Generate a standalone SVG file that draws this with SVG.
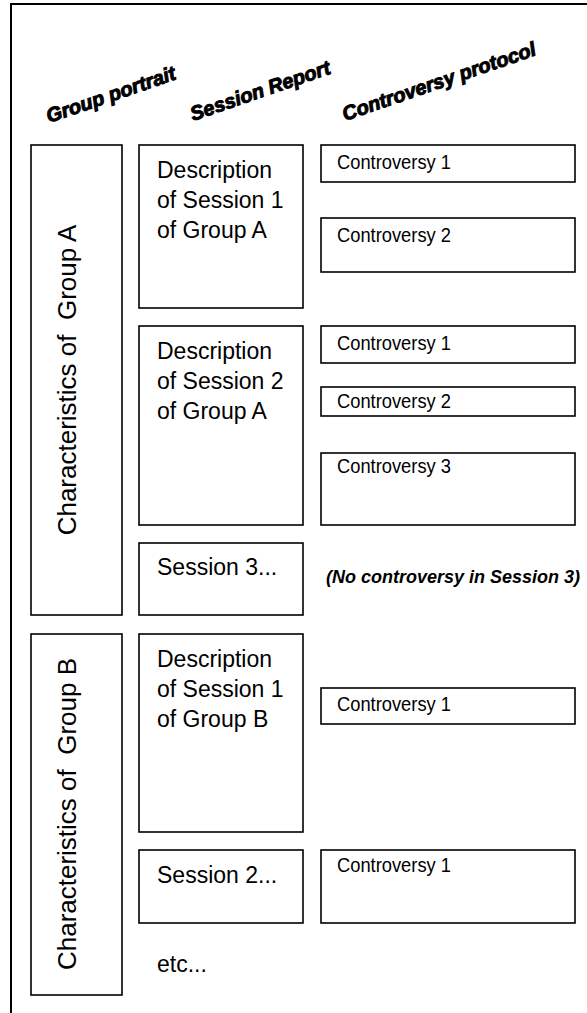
<svg xmlns="http://www.w3.org/2000/svg" width="587" height="1013" viewBox="0 0 587 1013">
<style>
.box{fill:#fff;stroke:#000;stroke-width:1.6}
.frame{fill:none;stroke:#000;stroke-width:2}
.hdr{font-family:"Liberation Sans",Arial,sans-serif;font-weight:bold;font-style:italic;font-size:20px;fill:#000;stroke:#000;stroke-width:1}
.ses{font-family:"Liberation Sans",Arial,sans-serif;font-size:23px;fill:#000}
.grp{font-family:"Liberation Sans",Arial,sans-serif;font-size:26px;fill:#000;white-space:pre}
.con{font-family:"Liberation Sans",Arial,sans-serif;font-size:20px;fill:#000}
.note{font-family:"Liberation Sans",Arial,sans-serif;font-size:18px;font-weight:bold;font-style:italic;fill:#000}
</style>
<rect width="587" height="1013" fill="#fff"/>
<path class="frame" d="M11,1013 V4 H587"/>
<g id="headers">
<text class="hdr" transform="translate(49,123) rotate(-19)">Group portrait</text>
<text class="hdr" transform="translate(193,121) rotate(-19)">Session Report</text>
<text class="hdr" transform="translate(345,121) rotate(-19)">Controversy protocol</text>
</g>
<g id="groupA"><rect class="box" x="31" y="145" width="91" height="470"/><text class="grp" text-anchor="middle" xml:space="preserve" transform="translate(76,380) rotate(-90)">Characteristics of  Group A</text></g>
<g id="groupB"><rect class="box" x="31" y="634" width="91" height="361"/><text class="grp" text-anchor="middle" xml:space="preserve" transform="translate(76,814) rotate(-90)">Characteristics of  Group B</text></g>
<g id="sessionA1"><rect class="box" x="139" y="145" width="164" height="163"/><text class="ses" x="157" y="178">Description</text><text class="ses" x="157" y="208">of Session 1</text><text class="ses" x="157" y="238">of Group A</text></g>
<g id="sessionA2"><rect class="box" x="139" y="326" width="164" height="199"/><text class="ses" x="157" y="359">Description</text><text class="ses" x="157" y="389">of Session 2</text><text class="ses" x="157" y="419">of Group A</text></g>
<g id="sessionA3"><rect class="box" x="139" y="543" width="164" height="72"/><text class="ses" x="157" y="575">Session 3...</text></g>
<g id="sessionB1"><rect class="box" x="139" y="634" width="164" height="198"/><text class="ses" x="157" y="667">Description</text><text class="ses" x="157" y="697">of Session 1</text><text class="ses" x="157" y="727">of Group B</text></g>
<g id="sessionB2"><rect class="box" x="139" y="850" width="164" height="73"/><text class="ses" x="157" y="883">Session 2...</text></g>
<g id="etc"><text class="ses" x="157" y="972">etc...</text></g>
<g id="contA1_1"><rect class="box" x="321" y="145" width="254" height="37"/><text class="con" x="337" y="169" textLength="114" lengthAdjust="spacingAndGlyphs">Controversy 1</text></g>
<g id="contA1_2"><rect class="box" x="321" y="218" width="254" height="54"/><text class="con" x="337" y="242" textLength="114" lengthAdjust="spacingAndGlyphs">Controversy 2</text></g>
<g id="contA2_1"><rect class="box" x="321" y="326" width="254" height="37"/><text class="con" x="337" y="350" textLength="114" lengthAdjust="spacingAndGlyphs">Controversy 1</text></g>
<g id="contA2_2"><rect class="box" x="321" y="387" width="254" height="29"/><text class="con" x="337" y="408" textLength="114" lengthAdjust="spacingAndGlyphs">Controversy 2</text></g>
<g id="contA2_3"><rect class="box" x="321" y="453" width="254" height="72"/><text class="con" x="337" y="473" textLength="114" lengthAdjust="spacingAndGlyphs">Controversy 3</text></g>
<g id="noteA3"><text class="note" x="326" y="583">(No controversy in Session 3)</text></g>
<g id="contB1_1"><rect class="box" x="321" y="688" width="254" height="36"/><text class="con" x="337" y="711" textLength="114" lengthAdjust="spacingAndGlyphs">Controversy 1</text></g>
<g id="contB2_1"><rect class="box" x="321" y="850" width="254" height="73"/><text class="con" x="337" y="872" textLength="114" lengthAdjust="spacingAndGlyphs">Controversy 1</text></g>
<g id="connectors"></g>
</svg>
